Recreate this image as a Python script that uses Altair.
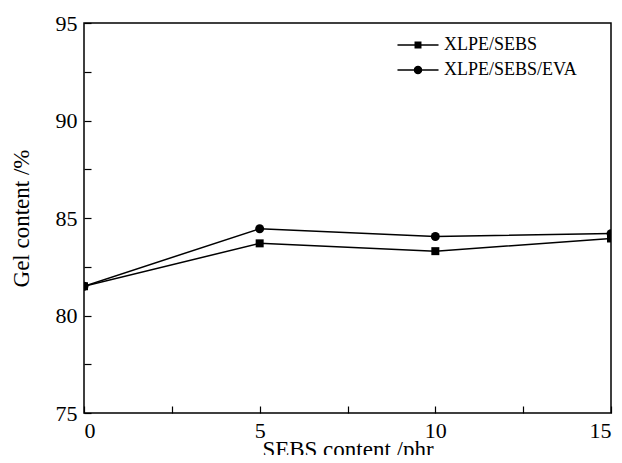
import altair as alt
import pandas as pd

sebs = [0, 5, 10, 15]
xlpe_sebs = [81.5, 83.7, 83.3, 83.95]
xlpe_sebs_eva = [81.5, 84.45, 84.05, 84.2]
series_names = ["XLPE/SEBS", "XLPE/SEBS/EVA"]
x_ticks = [0, 2.5, 5, 7.5, 10, 12.5, 15]
y_ticks = [75, 77.5, 80, 82.5, 85, 87.5, 90, 92.5, 95]

rows = []
for x, v in zip(sebs, xlpe_sebs):
    rows.append({"x": x, "y": v, "series": series_names[0]})
for x, v in zip(sebs, xlpe_sebs_eva):
    rows.append({"x": x, "y": v, "series": series_names[1]})
df = pd.DataFrame(rows)

FONT = "Liberation Serif, Times New Roman, Times, serif"

x_enc = alt.X("x:Q", scale=alt.Scale(domain=[0, 15], nice=False, zero=False),
              axis=alt.Axis(values=x_ticks, title="SEBS content /phr",
                            labelExpr="datum.value % 5 == 0 ? datum.label : ''",
                            offset=-7, tickSize=7, domain=False, grid=False,
                            labelPadding=7, titlePadding=-3, format="d"))
y_enc = alt.Y("y:Q", scale=alt.Scale(domain=[75, 95], nice=False, zero=False),
              axis=alt.Axis(values=y_ticks, title="Gel content /%",
                            labelExpr="datum.value % 5 == 0 ? datum.label : ''",
                            offset=-7, tickSize=7, domain=False, grid=False,
                            labelPadding=7, titlePadding=22, format="d"))

base = alt.Chart(df)

lines = base.mark_line(color="black", strokeWidth=1.5, clip=True).encode(
    x=x_enc, y=y_enc, detail="series:N")

points = base.mark_point(filled=True, color="black", opacity=1, clip=True).encode(
    x="x:Q", y="y:Q",
    shape=alt.Shape("series:N", scale=alt.Scale(domain=series_names, range=["square", "circle"]),
                    legend=None),
    size=alt.Size("series:N", scale=alt.Scale(domain=series_names, range=[64, 80]), legend=None),
)

sq_path = "M-3.42,-0.125H3.42V0.125H-3.42ZM-0.58,-0.58H0.58V0.58H-0.58Z"
ci_path = ("M-3.42,-0.125H3.42V0.125H-3.42Z"
           "M-0.71,0A0.71,0.71,0,1,1,0.71,0A0.71,0.71,0,1,1,-0.71,0Z")

legend_layer = base.transform_filter("false").mark_point(
    filled=True, color="black").encode(
    x="x:Q", y="y:Q",
    shape=alt.Shape("series:N",
                    scale=alt.Scale(domain=series_names, range=[sq_path, ci_path]),
                    legend=alt.Legend(title=None, orient="none", legendX=325, legendY=13,
                                      symbolSize=144, symbolFillColor="black",
                                      symbolOpacity=1, symbolStrokeWidth=0,
                                      labelFont=FONT, labelFontSize=18, labelColor="black",
                                      labelOffset=17, rowPadding=7, padding=0)),
)

chart = alt.layer(lines, points, legend_layer).resolve_scale(
    shape="independent", size="independent"
).properties(
    width=527, height=390,
    autosize=alt.AutoSizeParams(type="none"),
    padding={"left": 76, "top": 15, "right": 3, "bottom": 42},
).configure(
    font=FONT
).configure_view(
    stroke="black", strokeWidth=1.5
).configure_axis(
    labelFont=FONT, labelFontSize=22, labelColor="black",
    titleFont=FONT, titleFontSize=23, titleColor="black", titleFontWeight="normal",
    tickColor="black", tickWidth=1.2
).configure_legend(
    labelFont=FONT
)

chart.save("out.html", embed_options={"renderer": "svg", "actions": False})
